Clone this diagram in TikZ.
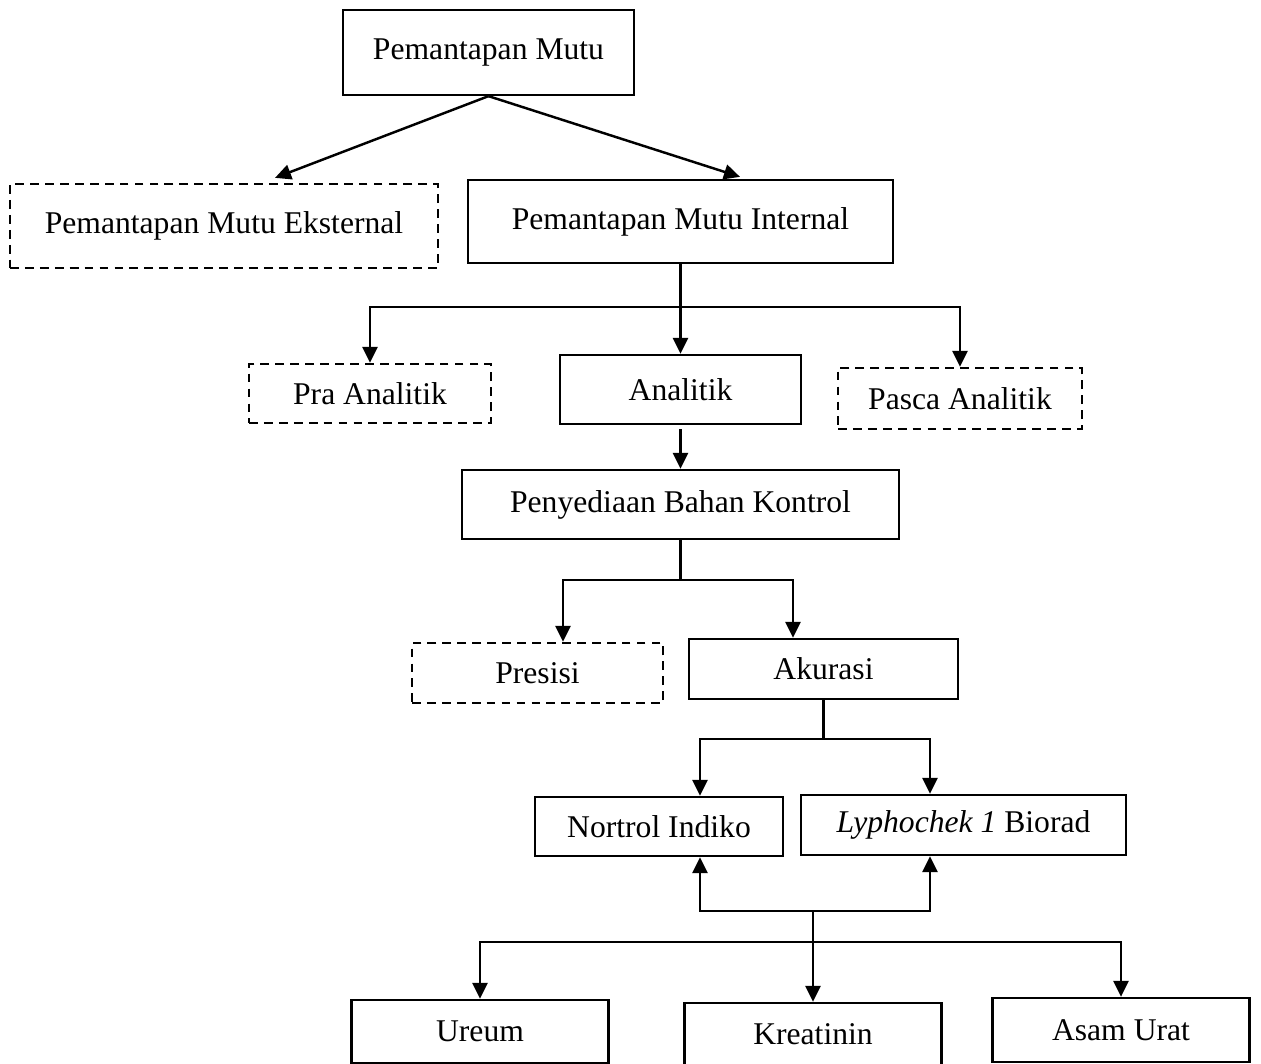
\documentclass[tikz,border=0pt]{standalone}
\usepackage{fontspec}
\setmainfont{Liberation Serif}
\usetikzlibrary{arrows.meta}

\begin{document}
\begin{tikzpicture}[
  box/.style={draw, line width=1.3pt, inner sep=0pt, font=\fontsize{18}{22}\selectfont},
  dashbox/.style={box, dash pattern=on 5pt off 3.5pt},
  arr/.style={line width=1.4pt, -{Triangle[length=0.32cm,width=0.3cm]}},
  ln/.style={line width=1.4pt}
]
\useasboundingbox (0,0) rectangle (25.22,-21.28);

% Top level
\node[box, minimum width=5.82cm, minimum height=1.70cm] (pm) at (9.77,-1.05) {Pemantapan Mutu};
\node[dashbox, minimum width=8.56cm, minimum height=1.68cm] (pme) at (4.48,-4.52) {Pemantapan Mutu Eksternal};
\node[box, minimum width=8.5cm, minimum height=1.66cm] (pmi) at (13.61,-4.43) {Pemantapan Mutu Internal};
\draw[arr] (pm.south) -- ([xshift=1.02cm,yshift=0.1cm]pme.north);
\draw[arr] (pm.south) -- ([xshift=1.19cm,yshift=0.04cm]pmi.north);

% Internal stages
\node[dashbox, minimum width=4.84cm, minimum height=1.18cm] (pra) at (7.4,-7.87) {Pra Analitik};
\node[box, minimum width=4.82cm, minimum height=1.38cm] (ana) at (13.61,-7.79) {Analitik};
\node[dashbox, minimum width=4.88cm, minimum height=1.22cm] (pasca) at (19.2,-7.97) {Pasca Analitik};
\coordinate (j1) at (13.61,-6.14);
\draw[arr] (pmi.south) -- (ana.north);
\draw[arr] (j1) -| (pra.north);
\draw[arr] (j1) -| (pasca.north);

% Control material
\node[box, minimum width=8.74cm, minimum height=1.38cm] (peny) at (13.61,-10.09) {Penyediaan Bahan Kontrol};
\draw[arr] ([yshift=-0.08cm]ana.south) -- (peny.north);

\node[dashbox, minimum width=5.02cm, minimum height=1.2cm] (pres) at (10.75,-13.46) {Presisi};
\node[box, minimum width=5.38cm, minimum height=1.2cm] (aku) at (16.47,-13.38) {Akurasi};
\coordinate (j2) at (13.61,-11.6);
\draw[ln] (peny.south) -- (j2);
\draw[arr] (j2) -| ([xshift=0.51cm]pres.north);
\draw[arr] (j2) -| ([xshift=-0.61cm]aku.north);

% Control brands
\node[box, minimum width=4.96cm, minimum height=1.18cm] (nor) at (13.18,-16.53) {Nortrol Indiko};
\node[box, minimum width=6.5cm, minimum height=1.2cm] (lyp) at (19.27,-16.5) {\textit{Lyphochek 1} Biorad};
\coordinate (j3) at (16.47,-14.78);
\draw[ln] (aku.south) -- (j3);
\draw[arr] (j3) -| ([xshift=0.82cm]nor.north);
\draw[arr] (j3) -| ([xshift=-0.67cm]lyp.north);

% Parameters
\node[box, minimum width=5.14cm, minimum height=1.26cm] (ure) at (9.6,-20.63) {Ureum};
\node[box, minimum width=5.14cm, minimum height=1.26cm] (kre) at (16.26,-20.69) {Kreatinin};
\node[box, minimum width=5.14cm, minimum height=1.28cm] (asam) at (22.42,-20.6) {Asam Urat};
\coordinate (hub) at (16.26,-18.22);
\coordinate (j4) at (16.26,-18.84);
\draw[arr] (hub) -| ([xshift=0.82cm]nor.south);
\draw[arr] (hub) -| ([xshift=-0.67cm]lyp.south);
\draw[arr] (hub) -- (kre.north);
\draw[arr] (j4) -| (ure.north);
\draw[arr] (j4) -| (asam.north);
\end{tikzpicture}
\end{document}
